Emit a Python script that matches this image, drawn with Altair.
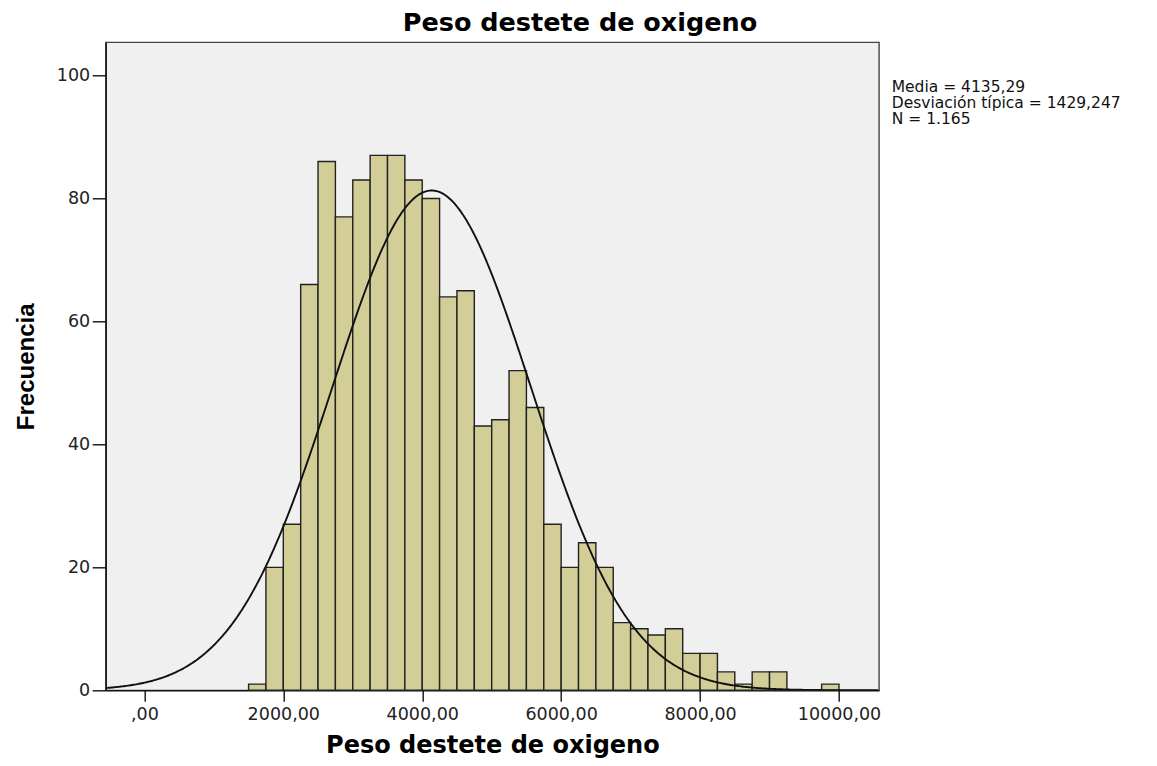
import altair as alt
import pandas as pd

# ---- data (bin width 250) ----
BIN_START = [1500, 1750, 2000, 2250, 2500, 2750, 3000, 3250, 3500, 3750,
             4000, 4250, 4500, 4750, 5000, 5250, 5500, 5750, 6000, 6250,
             6500, 6750, 7000, 7250, 7500, 7750, 8000, 8250, 8500, 8750,
             9000, 9250, 9500, 9750]
BIN_END = [1750, 2000, 2250, 2500, 2750, 3000, 3250, 3500, 3750, 4000,
           4250, 4500, 4750, 5000, 5250, 5500, 5750, 6000, 6250, 6500,
           6750, 7000, 7250, 7500, 7750, 8000, 8250, 8500, 8750, 9000,
           9250, 9500, 9750, 10000]
COUNTS = [1, 20, 27, 66, 86, 77, 83, 87, 87, 83,
          80, 64, 65, 43, 44, 52, 46, 27, 20, 24,
          20, 11, 10, 9, 10, 6, 6, 3, 1, 3,
          3, 0, 0, 1]

MEAN = 4135.29
SD = 1429.247
N = 1165
BIN_WIDTH = 250

X_TICKS = [0, 2000, 4000, 6000, 8000, 10000]
Y_TICKS = [0, 20, 40, 60, 80, 100]
X_DOMAIN = [-557, 10576]
Y_DOMAIN = [0, 105.4]

TITLE = "Peso destete de oxigeno"
X_TITLE = "Peso destete de oxigeno"
Y_TITLE = "Frecuencia"
STATS_LINES = ["Media = 4135,29", "Desviación típica = 1429,247", "N = 1.165"]

bars_df = pd.DataFrame({"start": BIN_START, "end": BIN_END, "count": COUNTS})

x_scale = alt.Scale(domain=X_DOMAIN, nice=False, zero=False)
y_scale = alt.Scale(domain=Y_DOMAIN, nice=False)

x_axis = alt.Axis(
    values=X_TICKS,
    labelExpr="datum.value == 0 ? ',00' : datum.value + ',00'",
    title=X_TITLE,
    grid=False,
    tickSize=11,
    labelPadding=4,
    labelFont="DejaVu Sans",
    labelFontSize=17.5,
    labelColor="#222",
    titleFont="DejaVu Sans",
    titleFontSize=24,
    titleFontWeight="bold",
    titleColor="#000",
    titleBaseline="alphabetic",
    titleY=62,
)
y_axis = alt.Axis(
    values=Y_TICKS,
    title=Y_TITLE,
    grid=False,
    tickSize=13.5,
    labelPadding=2.5,
    labelFont="DejaVu Sans",
    labelFontSize=17.5,
    labelColor="#222",
    titleFont="Liberation Sans",
    titleFontSize=24,
    titleFontWeight="bold",
    titleColor="#000",
    titleBaseline="alphabetic",
    titleX=-72,
    titleAngle=270,
)

bars = alt.Chart(bars_df).transform_calculate(
    base="0"
).mark_bar(
    fill="#d3ce98", stroke="#222", strokeWidth=1.4, opacity=1
).encode(
    x=alt.X("start:Q", scale=x_scale, axis=x_axis),
    x2="end:Q",
    y=alt.Y("count:Q", scale=y_scale, axis=y_axis),
    y2="base:Q",
)

curve = alt.Chart(alt.sequence(X_DOMAIN[0], X_DOMAIN[1] + 1, 20, as_="x")).transform_calculate(
    y=f"{N}*{BIN_WIDTH}*exp(-0.5*pow((datum.x-{MEAN})/{SD},2))/({SD}*sqrt(2*PI))"
).mark_line(color="#111", strokeWidth=1.9, clip=True).encode(
    x=alt.X("x:Q", scale=x_scale),
    y=alt.Y("y:Q", scale=y_scale),
)

one_row = pd.DataFrame({"k": [0]})

stats = alt.Chart(one_row).mark_text(
    text=STATS_LINES,
    align="left",
    baseline="alphabetic",
    font="DejaVu Sans",
    fontSize=15.5,
    lineHeight=16,
    color="#111",
).encode(
    x=alt.value(786),
    y=alt.value(49.5),
)

title = alt.Chart(one_row).mark_text(
    text=TITLE,
    align="center",
    baseline="alphabetic",
    font="DejaVu Sans",
    fontSize=25.5,
    fontWeight="bold",
    color="#000",
).encode(
    x=alt.value(474.3),
    y=alt.value(-11.6),
)

chart = alt.layer(bars, curve, stats, title).properties(
    width=773.3,
    height=648,
    autosize=alt.AutoSizeParams(type="none"),
    padding={"left": 97.7, "top": 34.3, "right": 270, "bottom": 67.7},
    background="white",
).configure_view(
    fill="#f0f0f0", stroke="#444", strokeWidth=1.4
).configure_axis(
    domainColor="#111", domainWidth=1.4, tickColor="#111", tickWidth=1.4
)

chart.save("out.html", embed_options={"renderer": "svg", "actions": False})
